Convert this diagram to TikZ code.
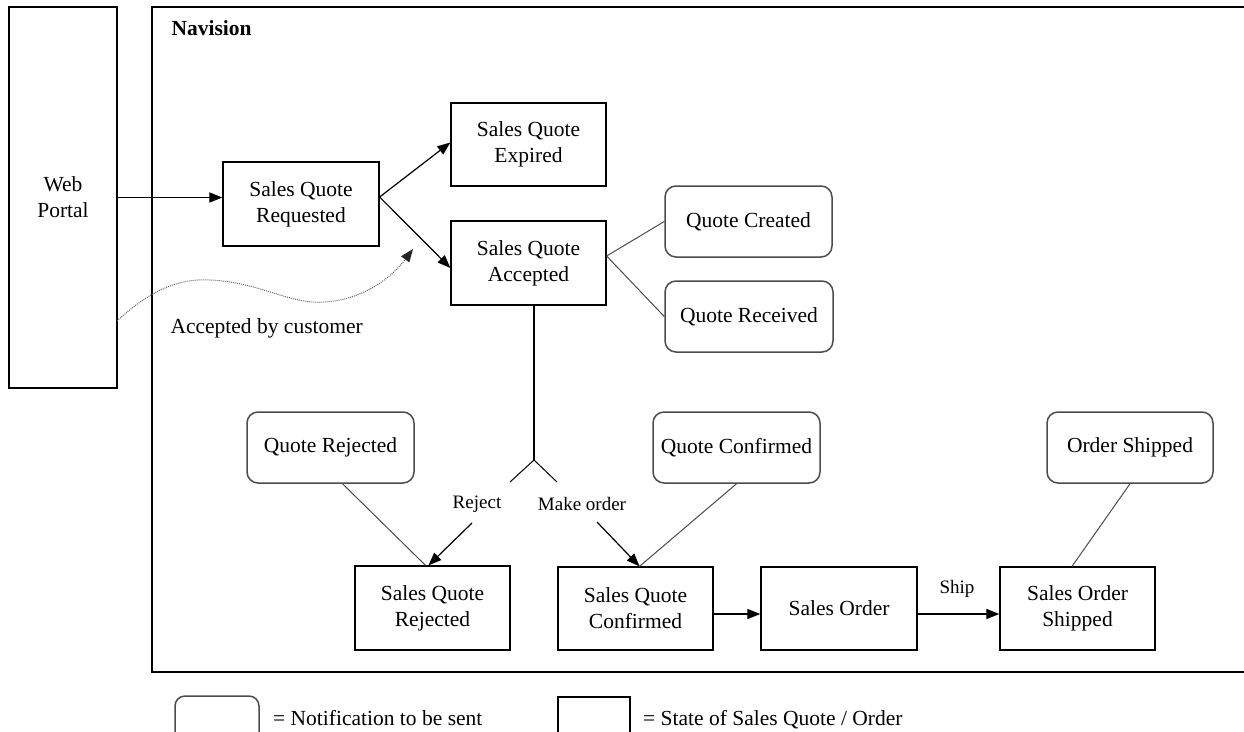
\documentclass[tikz,border=0pt]{standalone}
\usepackage{fontspec}
\setmainfont{Liberation Serif}
\usetikzlibrary{arrows.meta}
\tikzset{
  mainfont/.style={font=\fontsize{21.5}{26}\selectfont},
  labelfont/.style={font=\fontsize{19}{23}\selectfont},
  statebox/.style={draw=black, line width=1.3pt, align=center, inner sep=0pt, mainfont},
  notebox/.style={draw=black!70, line width=1.5pt, rounded corners=11pt, align=center, inner sep=0pt, mainfont},
  arr/.style={line width=1.2pt, -{Triangle[length=13pt,width=10pt]}},
  thinline/.style={draw=black!70, line width=1pt},
  curvearr/.style={draw=black!60, line width=1pt, dash pattern=on 1pt off 1pt, -{Triangle[length=13pt,width=10pt,color=black!85,fill=black!85]}},
}
\begin{document}
\begin{tikzpicture}[x=1pt,y=-1pt]
\useasboundingbox (0,0) rectangle (1244,731);
\fill[white] (0,0) rectangle (1244,731);

% Navision frame (right side beyond picture)
\draw[line width=1.3pt] (1260,7) -- (152,7) -- (152,672) -- (1260,672);
\node[anchor=base west, font=\bfseries\fontsize{21.5}{26}\selectfont] (nav) at (168,35) {Navision};

% Web portal
\node[statebox, minimum width=108pt, minimum height=381pt] (web) at (63,197.5) {Web\\Portal};

% states
\node[statebox, minimum width=156pt, minimum height=84pt] (sqr) at (301,204) {Sales Quote\\Requested};
\node[statebox, minimum width=155pt, minimum height=83pt] (sqe) at (528.5,144.5) {Sales Quote\\Expired};
\node[statebox, minimum width=155pt, minimum height=84pt] (sqa) at (528.5,263) {Sales Quote\\Accepted};
\node[statebox, minimum width=155pt, minimum height=84pt] (sqrej) at (432.5,608) {Sales Quote\\Rejected};
\node[statebox, minimum width=155pt, minimum height=83pt] (sqc) at (635.5,608.5) {Sales Quote\\Confirmed};
\node[statebox, minimum width=156pt, minimum height=83pt] (so) at (839,608.5) {Sales Order};
\node[statebox, minimum width=155pt, minimum height=83pt] (sos) at (1077.5,608.5) {Sales Order\\Shipped};

% notifications
\node[notebox, minimum width=167pt, minimum height=71pt] (qcreated) at (748.5,221.5) {Quote Created};
\node[notebox, minimum width=168pt, minimum height=71pt] (qreceived) at (749,316.5) {Quote Received};
\node[notebox, minimum width=167pt, minimum height=71pt] (qrejected) at (330.5,447.5) {Quote Rejected};
\node[notebox, minimum width=167pt, minimum height=71pt] (qconfirmed) at (736.5,447.5) {Quote Confirmed};
\node[notebox, minimum width=166pt, minimum height=71pt] (oshipped) at (1130,447.5) {Order Shipped};

% arrows
\draw[arr] (web.east) -- (web.east -| sqr.west);
\draw[arr] ([yshift=7pt]sqr.east) -- ([yshift=2pt]sqe.west);
\draw[arr] ([yshift=7pt]sqr.east) -- ([yshift=-5pt]sqa.west);
\draw[thinline] ([yshift=7pt]sqa.east) -- (qcreated.west);
\draw[thinline] ([yshift=7pt]sqa.east) -- (qreceived.west);

% fork
\coordinate (fork) at (534,460);
\coordinate (forkl) at (510,482);
\coordinate (forkr) at (557,482);
\draw[line width=1.2pt] ([xshift=5.5pt]sqa.south) -- (fork);
\draw[line width=1pt] (forkl) -- (fork) -- (forkr);
\node[labelfont] (rej) at (477,504) {Reject};
\node[labelfont] (mko) at (582,504) {Make order};
\coordinate (rejstart) at (472,523);
\coordinate (mkostart) at (597,522);
\draw[arr] (rejstart) -- ([xshift=-4pt]sqrej.north);
\draw[arr] (mkostart) -- ([xshift=4pt]sqc.north);

\draw[thinline] ([xshift=12pt]qrejected.south) -- ([xshift=-7pt]sqrej.north);
\draw[thinline] (qconfirmed.south) -- ([xshift=4pt]sqc.north);
\draw[thinline] (oshipped.south) -- ([xshift=-5.5pt]sos.north);

\draw[arr] ([yshift=-5.5pt]sqc.east) -- ([yshift=-5.5pt]so.west);
\draw[arr] ([yshift=-5.5pt]so.east) -- ([yshift=-5.5pt]sos.west);
\node[labelfont] (ship) at (957,589) {Ship};

% accepted by customer
\coordinate (cstart) at (117,321);
\coordinate (cend) at (413,249);
\draw[curvearr] (cstart) .. controls (150,290) and (180,278) .. (210,280)
  .. controls (260,282) and (290,305) .. (325,302)
  .. controls (365,299) and (392,277) .. (cend);
\node[anchor=base west, mainfont] (acc) at (167,333) {Accepted by customer};

% legend
\draw[draw=black!70, line width=1.5pt, rounded corners=10pt] (175,750) -- (175,696) -- (259,696) -- (259,750);
\node[anchor=base west, mainfont, inner sep=0pt] (leg1) at (273,725) {= Notification to be sent};
\draw[line width=1.3pt] (558,750) -- (558,697) -- (630,697) -- (630,750);
\node[anchor=base west, mainfont, inner sep=0pt] (leg2) at (643,725) {= State of Sales Quote / Order};
\end{tikzpicture}
\end{document}
